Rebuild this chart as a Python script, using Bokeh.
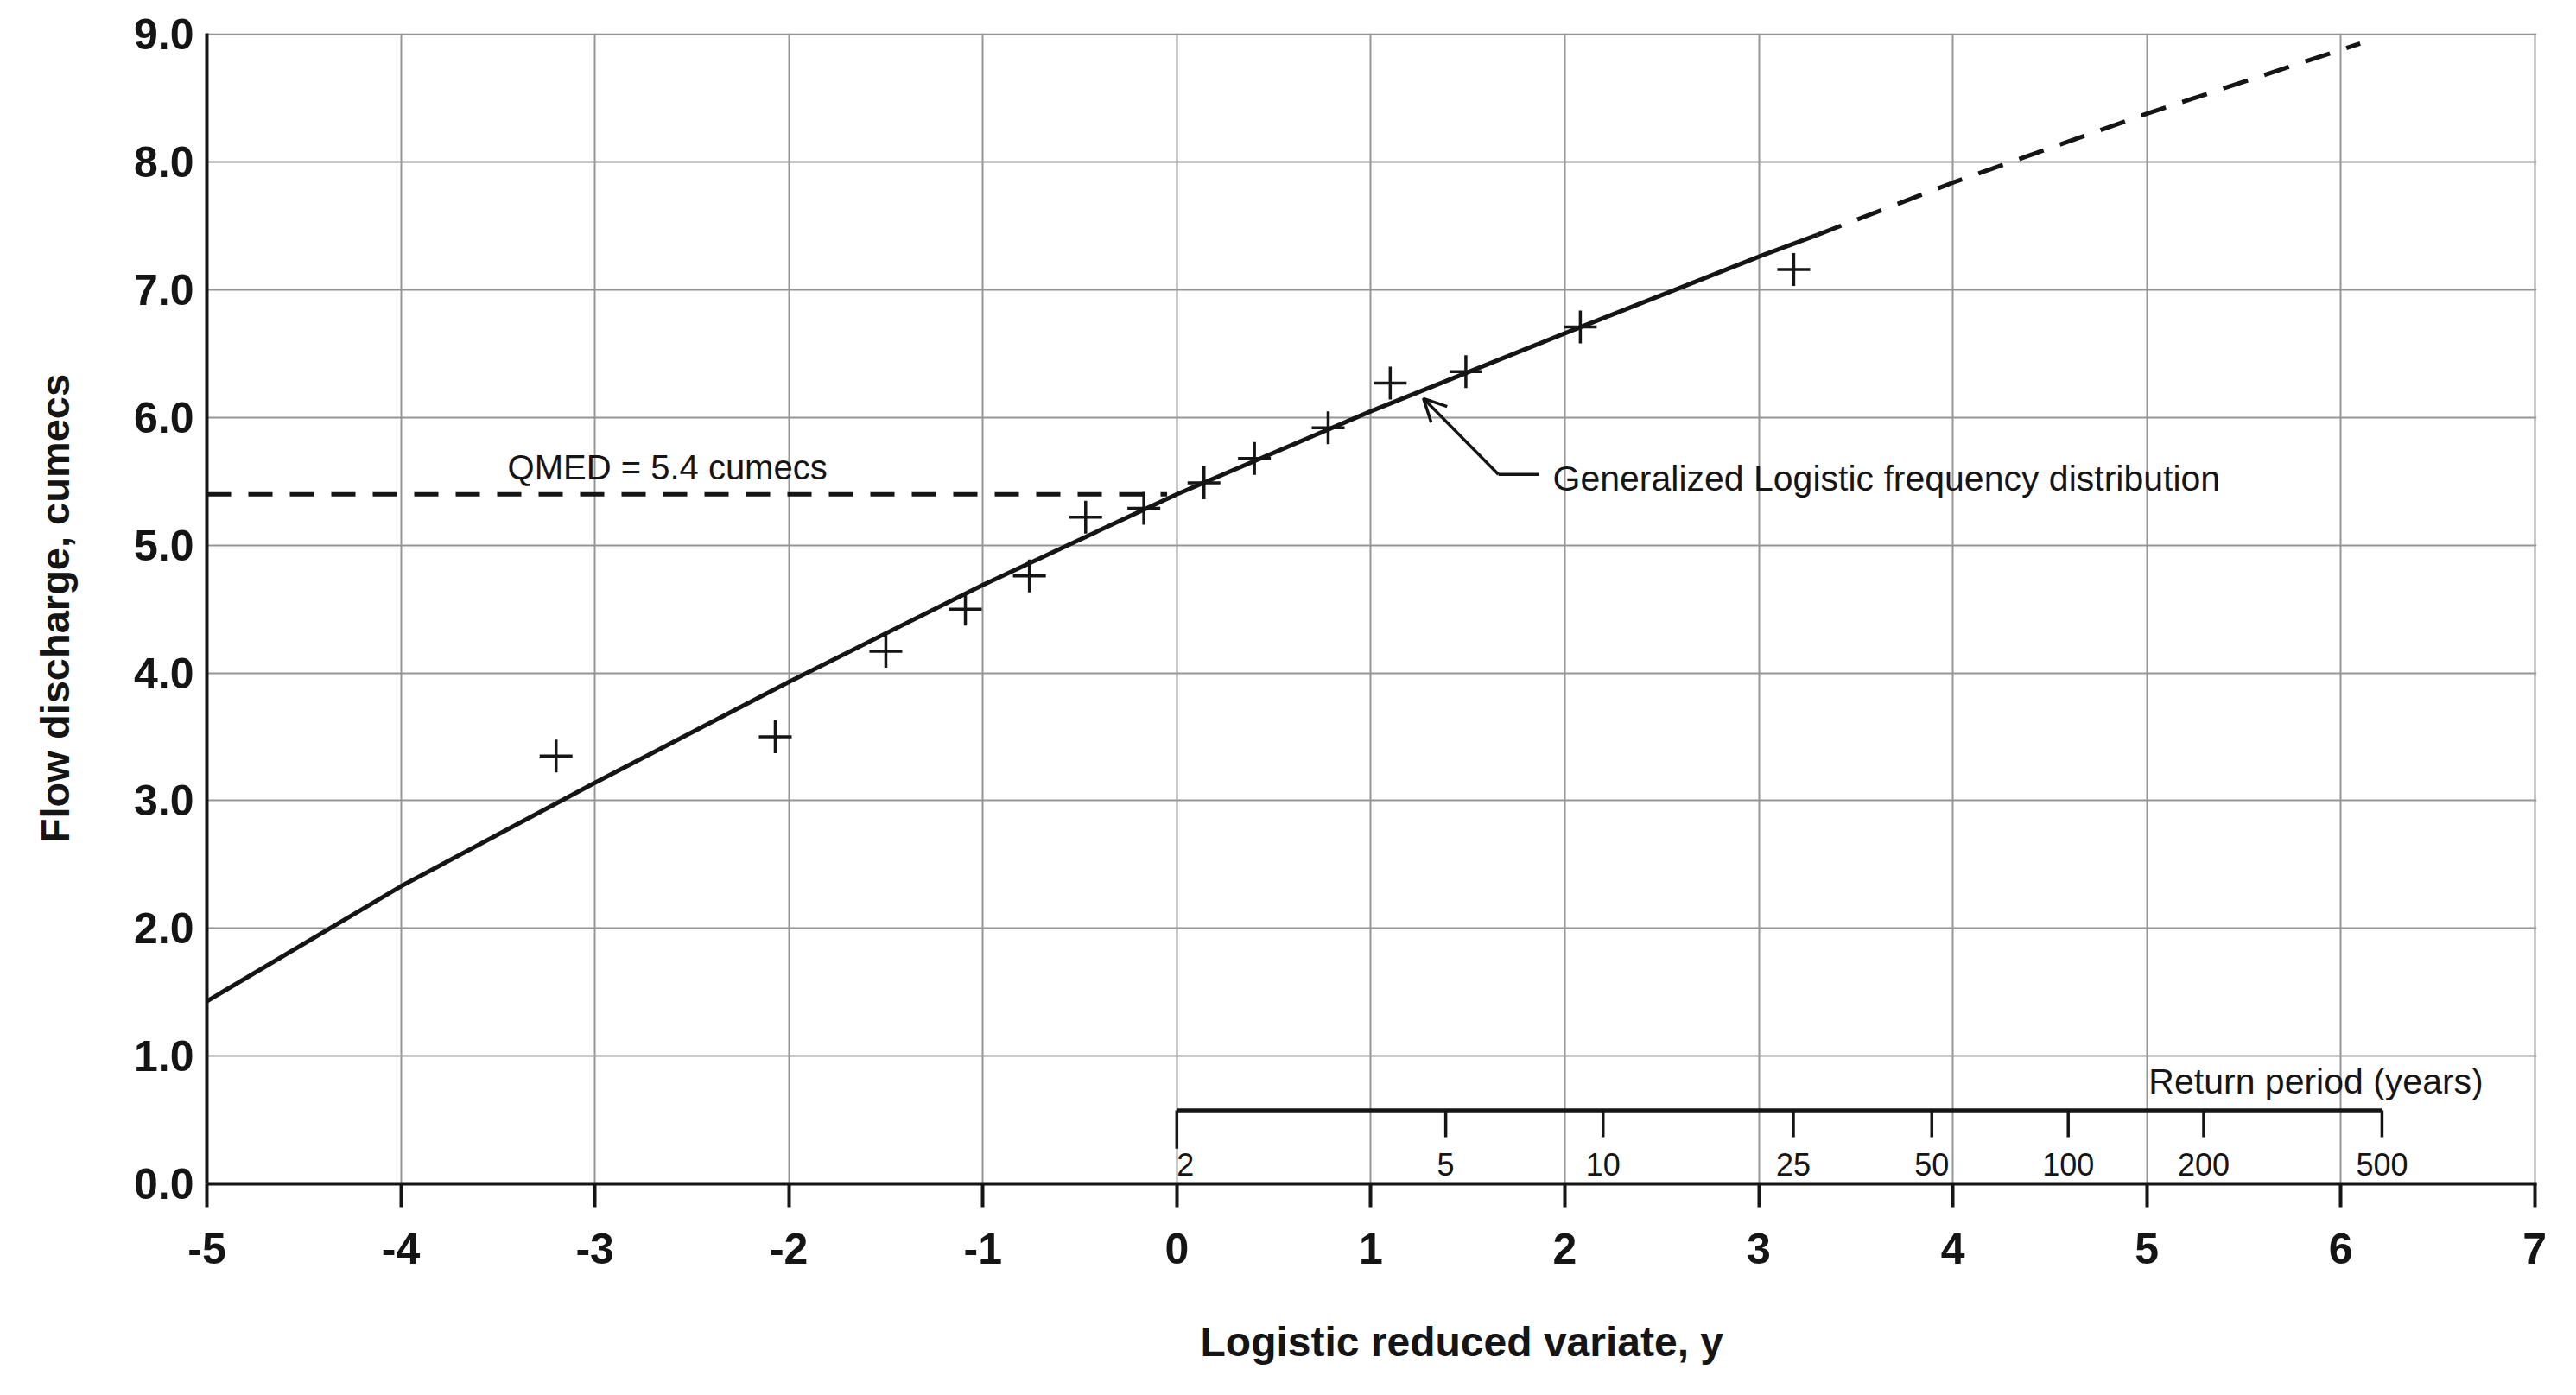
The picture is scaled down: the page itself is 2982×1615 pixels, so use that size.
import numpy as np
from bokeh.plotting import figure
from bokeh.models import Range1d, FixedTicker, Title, Arrow, OpenHead, Label
from bokeh.core.properties import value
from bokeh.embed import file_html
from bokeh.resources import INLINE

# ---------------- data ----------------
x_ticks = [-5, -4, -3, -2, -1, 0, 1, 2, 3, 4, 5, 6, 7]
x_tick_labels = ["-5", "-4", "-3", "-2", "-1", "0", "1", "2", "3", "4", "5", "6", "7"]
y_ticks = [0, 1, 2, 3, 4, 5, 6, 7, 8, 9]
y_tick_labels = ["0.0", "1.0", "2.0", "3.0", "4.0", "5.0", "6.0", "7.0", "8.0", "9.0"]

# observed annual maxima (logistic reduced variate, flow)
obs_variate = [-3.20, -2.07, -1.50, -1.09, -0.76, -0.47, -0.17, 0.14, 0.40, 0.78, 1.10, 1.49, 2.08, 3.18]
obs_flow = [3.35, 3.50, 4.17, 4.50, 4.76, 5.22, 5.29, 5.49, 5.68, 5.92, 6.27, 6.36, 6.71, 7.16]

# fitted Generalized Logistic curve
fit_variate = [-5, -4, -3, -2, -1, 0, 1, 2, 3, 3.3]
fit_flow = [1.43, 2.33, 3.14, 3.93, 4.69, 5.40, 6.05, 6.66, 7.26, 7.43]
ext_variate = [3.3, 4, 5, 6, 6.1]
ext_flow = [7.43, 7.84, 8.38, 8.88, 8.93]

qmed = 5.4
qmed_start = -5
qmed_end = -0.05

return_periods = [2, 5, 10, 25, 50, 100, 200, 500]
return_labels = ["2", "5", "10", "25", "50", "100", "200", "500"]
rp_level = 0.575
rp_label_level = 0.155

FONT = "Liberation Sans"
INK = "#151515"

# ---------------- figure ----------------
p = figure(frame_width=2697, frame_height=1332,
           x_range=Range1d(-5, 7.01), y_range=Range1d(0, 9.01),
           output_backend="svg", toolbar_location=None,
           min_border_left=239, min_border_right=30,
           min_border_top=38, min_border_bottom=229)
p.outline_line_color = None
p.background_fill_color = "white"
p.border_fill_color = "white"

# grid
p.xgrid.ticker = FixedTicker(ticks=x_ticks)
p.ygrid.ticker = FixedTicker(ticks=y_ticks)
for g in (p.xgrid, p.ygrid):
    g.grid_line_color = "#959595"
    g.grid_line_width = 2

# x axis
xa = p.xaxis[0]
xa.ticker = FixedTicker(ticks=x_ticks)
xa.major_label_overrides = {t: l for t, l in zip(x_ticks, x_tick_labels)}
xa.axis_line_width = 4
xa.axis_line_color = INK
xa.major_tick_out = 27
xa.major_tick_in = 0
xa.major_tick_line_width = 4
xa.major_tick_line_color = INK
xa.minor_tick_out = 0
xa.minor_tick_in = 0
xa.major_label_standoff = 30
xa.major_label_text_font = FONT
xa.major_label_text_font_style = "bold"
xa.major_label_text_font_size = "50px"
xa.major_label_text_color = INK

# y axis
ya = p.yaxis[0]
ya.ticker = FixedTicker(ticks=y_ticks)
ya.major_label_overrides = {t: l for t, l in zip(y_ticks, y_tick_labels)}
ya.axis_line_width = 4
ya.axis_line_color = INK
ya.major_tick_out = 0
ya.major_tick_in = 0
ya.minor_tick_out = 0
ya.minor_tick_in = 0
ya.major_label_standoff = 15
ya.major_label_text_font = FONT
ya.major_label_text_font_style = "bold"
ya.major_label_text_font_size = "50px"
ya.major_label_text_color = INK
ya.axis_label = "Flow discharge, cumecs"
ya.axis_label_text_font = FONT
ya.axis_label_text_font_style = "bold"
ya.axis_label_text_font_size = "47px"
ya.axis_label_text_color = INK
ya.axis_label_standoff = 62

# x axis title (shifted right like the original)
p.add_layout(Title(text="Logistic reduced variate, y", align="left", offset=1150,
                   text_font=FONT, text_font_style="bold", text_font_size="48px",
                   text_color=INK, standoff=118), "below")

# QMED line and label
p.line([qmed_start, qmed_end], [qmed, qmed], line_color=INK, line_width=5, line_dash="28 20")
p.add_layout(Label(x=-3.45, y=5.61, text="QMED = 5.4 cumecs", text_font=FONT,
                   text_font_size="40px", text_color=INK, text_baseline="middle"))

# fitted curve
p.line(fit_variate, fit_flow, line_color=INK, line_width=5)
p.line(ext_variate, ext_flow, line_color=INK, line_width=5, line_dash="30 20")

# observations
p.scatter(obs_variate, obs_flow, marker="cross", size=38, line_width=3.5, line_color=INK)

# annotation with arrow
p.add_layout(Arrow(end=OpenHead(size=26, line_width=3.5, line_color=INK),
                   x_start=1.658, y_start=5.555, x_end=1.271, y_end=6.15,
                   line_width=3.5, line_color=INK))
p.segment(x0=[1.658], y0=[5.555], x1=[1.867], y1=[5.555], line_width=3.5, line_color=INK)
p.add_layout(Label(x=1.938, y=5.52, text="Generalized Logistic frequency distribution",
                   text_font=FONT, text_font_size="41px", text_color=INK, text_baseline="middle"))

# return period scale
rp_x = np.log(np.array(return_periods, dtype=float) - 1.0)
tick_len = [0.30] + [0.21] * (len(return_periods) - 1)
p.segment(x0=[rp_x[0]], y0=[rp_level], x1=[rp_x[-1]], y1=[rp_level], line_width=4.5, line_color=INK)
p.segment(x0=rp_x, y0=[rp_level] * len(rp_x), x1=rp_x,
          y1=[rp_level - t for t in tick_len], line_width=3.5, line_color=INK)
p.text(x=rp_x, y=[rp_label_level] * len(rp_x), text=return_labels,
       text_align="center", text_baseline="middle",
       text_font=value(FONT), text_font_size="36px", text_color=INK,
       x_offset=[10] + [0] * (len(rp_x) - 1))
p.add_layout(Label(x=5.01, y=0.80, text="Return period (years)", text_font=FONT,
                   text_font_size="41px", text_color=INK, text_baseline="middle"))

open("out.html", "w").write(file_html(p, INLINE))
